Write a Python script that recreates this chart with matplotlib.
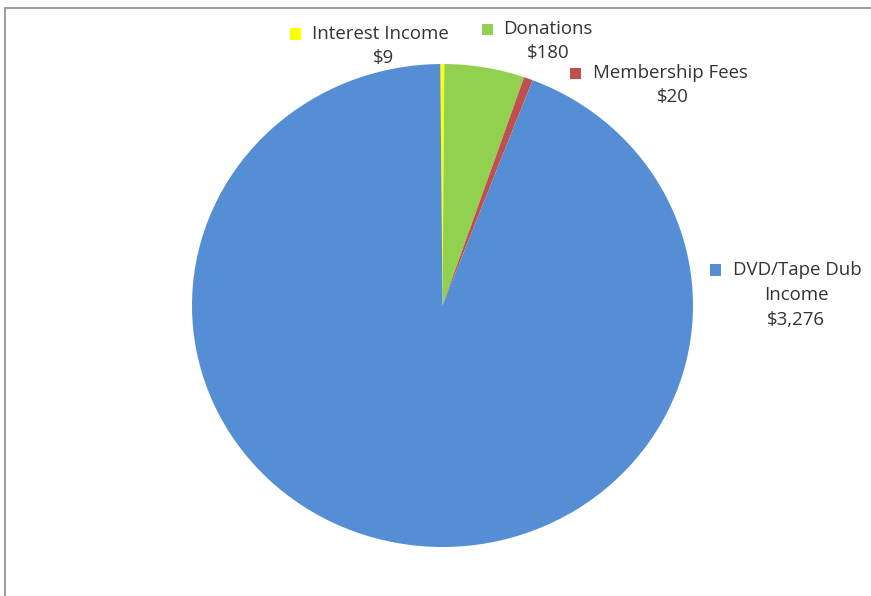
import matplotlib.pyplot as plt
from matplotlib.patches import Rectangle

# data
labels = ["Interest Income", "Donations", "Membership Fees", "DVD/Tape Dub Income"]
values = [9, 180, 20, 3276]
colors = ["#FFFF00", "#92D050", "#C0504D", "#558ED5"]

W, H = 871, 596
plt.rcParams['font.family'] = ['Open Sans', 'DejaVu Sans']

fig = plt.figure(figsize=(W / 100, H / 100), dpi=100)

def fx(x):
    return x / W

def fy(y):
    return 1 - y / H

# pie area (slightly stretched, as in the original)
left, right, top, bottom = 192, 693, 64, 547
ax = fig.add_axes([fx(left), fy(bottom), (right - left) / W, (bottom - top) / H])
ax.pie(values, colors=colors, startangle=90.5, counterclock=False,
       wedgeprops=dict(linewidth=0))
ax.set_aspect('auto')
ax.set_xlim(-1, 1)
ax.set_ylim(-1, 1)

# chart frame (only left and top edges show)
fig.patches.append(Rectangle((fx(5), fy(H + 20)), fx(W + 20), (H + 12) / H,
                             transform=fig.transFigure, fill=False,
                             edgecolor="#8c8c8c", linewidth=1.2))

# labels: square key, name lines, value
txt = "#333333"
fs = 13.4
label_pos = [
    # (square x, name y, name x, value center x, value y)
    (290, 34, 312, 383, 58, ["Interest Income"]),
    (482, 29, 503, 548, 53, ["Donations"]),
    (570, 73, 593, 673, 97, ["Membership Fees"]),
    (710, 270, 733, 796, 320, ["DVD/Tape Dub", "Income"]),
]
for i, (sx, ny, nx, vx, vy, lines) in enumerate(label_pos):
    fig.patches.append(Rectangle((fx(sx), fy(ny + 5.5)), 11 / W, 11 / H,
                                 transform=fig.transFigure,
                                 facecolor=colors[i], edgecolor="none"))
    fig.text(fx(nx), fy(ny), lines[0], ha="left", va="center",
             fontsize=fs, color=txt)
    if len(lines) > 1:
        fig.text(fx(vx), fy(ny + 25), lines[1], ha="center", va="center",
                 fontsize=fs, color=txt)
    fig.text(fx(vx), fy(vy), "${:,}".format(values[i]), ha="center",
             va="center", fontsize=fs, color=txt)

fig.savefig("out.png", dpi=100)
